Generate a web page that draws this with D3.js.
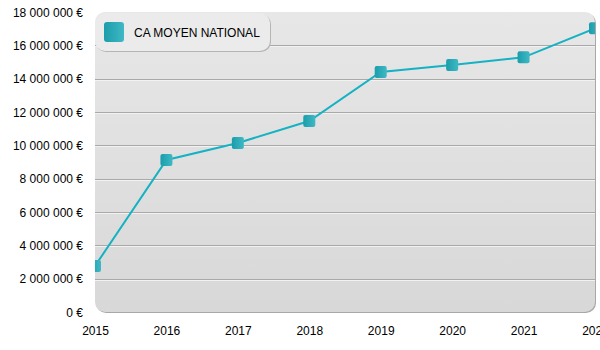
<!DOCTYPE html>
<html><head><meta charset="utf-8">
<script src="https://cdn.jsdelivr.net/npm/d3@7"></script>
<style>body{margin:0;background:#fff}svg{display:block}text{font-family:"Liberation Sans",Arial,sans-serif}</style>
</head><body>
<svg id="c" width="600" height="350"></svg>
<script>
const years = ["2015","2016","2017","2018","2019","2020","2021","2022"];
const caMoyen = [2760000, 9120000, 10140000, 11460000, 14400000, 14820000, 15280000, 17020000];
const yTicks = [0, 2000000, 4000000, 6000000, 8000000, 10000000, 12000000, 14000000, 16000000, 18000000];
const seriesName = "CA MOYEN NATIONAL";

const svg = d3.select("#c");
const L = 95, R = 595, T = 12, B = 312;
const x = d3.scalePoint().domain(years).range([L, R]);
const y = d3.scaleLinear().domain([0, 18000000]).range([B, T]);

const defs = svg.append("defs");
const bg = defs.append("linearGradient").attr("id","bg").attr("x1",0).attr("y1",0).attr("x2",0).attr("y2",1);
bg.append("stop").attr("offset","0%").attr("stop-color","#e7e7e7");
bg.append("stop").attr("offset","100%").attr("stop-color","#d8d8d8");
const mg = defs.append("linearGradient").attr("id","mg").attr("x1",0).attr("y1",0).attr("x2",1).attr("y2",0);
mg.append("stop").attr("offset","0%").attr("stop-color","#1a9dab");
mg.append("stop").attr("offset","100%").attr("stop-color","#40b8c4");
defs.append("clipPath").attr("id","clip").append("rect").attr("x",L).attr("y",T).attr("width",R-L).attr("height",B-T).attr("rx",10);

// plot background with shadow
svg.append("rect").attr("x",L+1).attr("y",T+1).attr("width",R-L).attr("height",B-T).attr("rx",10).attr("fill","#a8a8a8");
svg.append("rect").attr("x",L).attr("y",T).attr("width",R-L).attr("height",B-T).attr("rx",10).attr("fill","url(#bg)");

// gridlines
const g = svg.append("g").attr("clip-path","url(#clip)");
yTicks.filter(t => t > 0 && t < 18000000).forEach(t => {
  const yy = Math.round(y(t)) + 0.5;
  g.append("line").attr("x1",L).attr("x2",R).attr("y1",yy).attr("y2",yy).attr("stroke","#a9a9a9");
  g.append("line").attr("x1",L).attr("x2",R).attr("y1",yy+1).attr("y2",yy+1).attr("stroke","#f2f2f2");
});

// line
g.append("path").datum(caMoyen.map((v,i)=>[x(years[i]), y(v)]))
  .attr("d", d3.line()).attr("fill","none").attr("stroke","#15b2c3").attr("stroke-width",2);
g.selectAll("rect.m").data(caMoyen).join("rect").attr("class","m")
  .attr("x",(d,i)=>x(years[i])-6).attr("y",d=>y(d)-6).attr("width",12).attr("height",12).attr("rx",2)
  .attr("fill","url(#mg)");

// axes
const fmt = v => (v === 0 ? "0" : d3.format(",")(v).replace(/,/g, "\u00a0")) + " €";
const ya = svg.append("g").attr("transform",`translate(${L-12},0)`)
  .call(d3.axisLeft(y).tickValues(yTicks).tickFormat(fmt).tickSize(0).tickPadding(0));
ya.select(".domain").remove();
ya.selectAll("text").attr("font-size",12).attr("fill","#000").attr("dy","0.35em").attr("font-family","Liberation Sans, Arial, sans-serif");
const xa = svg.append("g").attr("transform",`translate(0,${B})`)
  .call(d3.axisBottom(x).tickSize(0).tickPadding(14));
xa.select(".domain").remove();
xa.selectAll("text").attr("font-size",12).attr("fill","#000").attr("font-family","Liberation Sans, Arial, sans-serif");

// legend
const lg = svg.append("g");
lg.append("rect").attr("x",96).attr("y",14).attr("width",175).attr("height",38).attr("rx",10).attr("fill","#b5b5b5");
lg.append("rect").attr("x",95).attr("y",13).attr("width",175).attr("height",38).attr("rx",10).attr("fill","#ebebeb");
lg.append("rect").attr("x",104).attr("y",22).attr("width",20).attr("height",20).attr("rx",3).attr("fill","url(#mg)");
lg.append("text").attr("x",134).attr("y",36.5).attr("font-size",12).attr("fill","#000").text(seriesName);
</script>
</body></html>
